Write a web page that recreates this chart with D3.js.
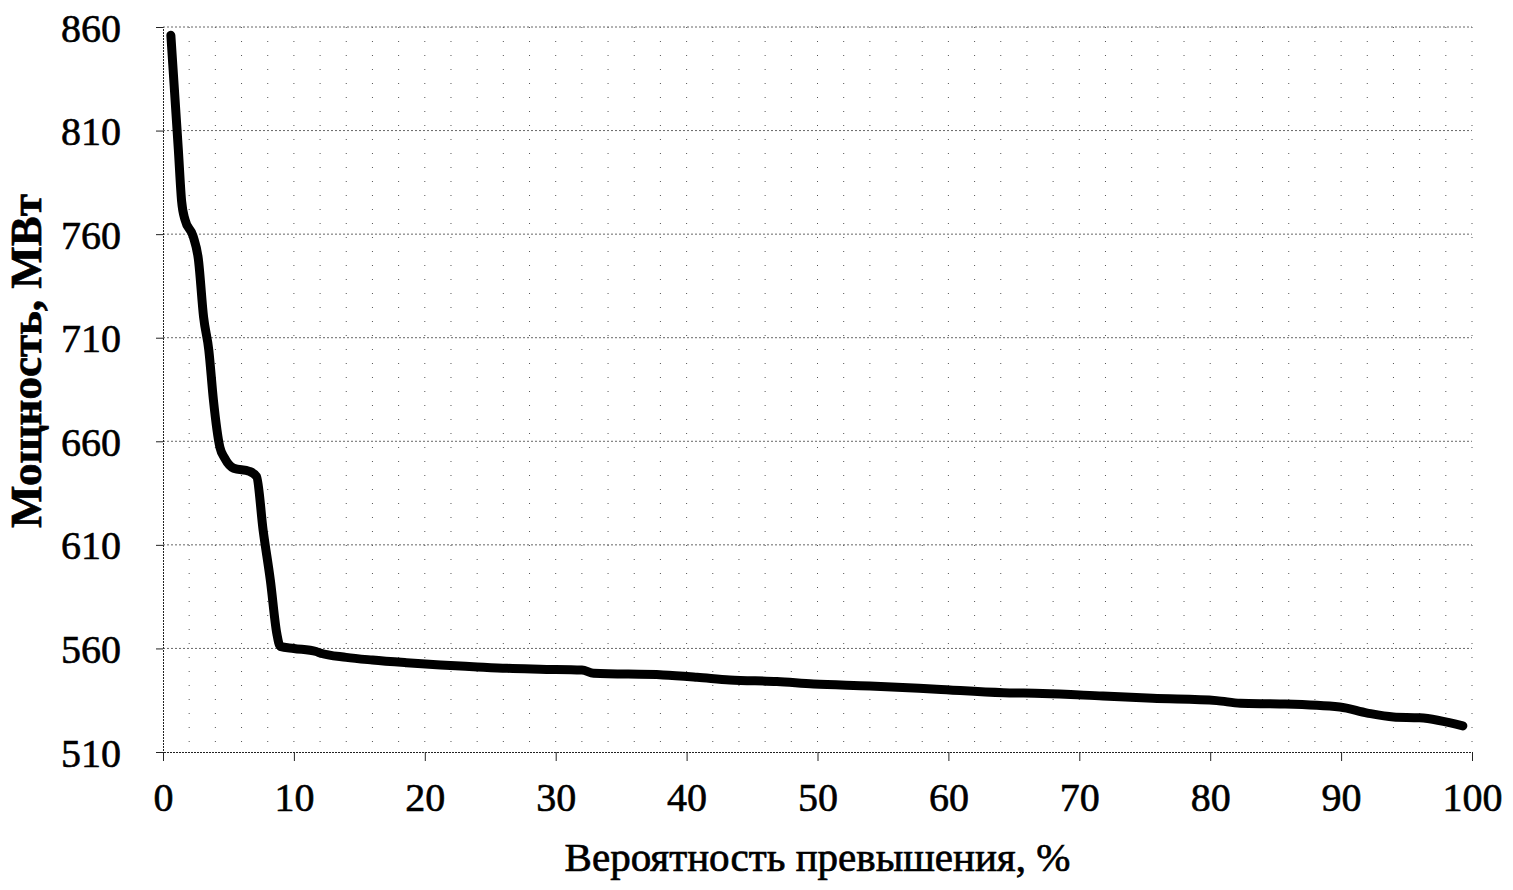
<!DOCTYPE html>
<meta charset="utf-8">
<style>
    body { margin: 0; background: #fff; }
    svg { background-color: #fff; }
    .tick text { font-family: "Liberation Serif", "Times New Roman", serif; font-size: 40px; fill: #000; stroke: #000; stroke-width: 0.6px; }
    .axis-title { font-family: "Liberation Serif", "Times New Roman", serif; fill: #000; stroke: #000; stroke-width: 0.7px; }
    .grid-h line { stroke: #666; stroke-width: 1; stroke-dasharray: 2,2; }
    .grid-v line { stroke: #555; stroke-width: 1; stroke-dasharray: 1,13; }
</style>
<body>
<script src="https://d3js.org/d3.v7.min.js"></script>
<script>
    var width = 1513,
        height = 890;

    // вероятность превышения, %
    var prob = [0.6, 1.17, 1.42, 1.68, 2.3, 2.7, 3.1, 3.5, 3.85, 4.35, 4.7, 5.4, 6.6, 7.15, 7.65, 8.2, 8.7, 8.95,
        10, 11.7, 12, 14, 16, 18.6, 21.2, 23.7, 26.3, 28.8, 32, 32.9, 38.2, 40.8, 43.3, 46.9, 49.7, 54,
        59.1, 64.2, 67.2, 71.8, 75.6, 80.5, 82.3, 85.3, 89.9, 92, 94, 96, 99.3];
    // мощность, МВт
    var power = [856, 801, 776, 767, 759, 748, 720, 704, 680, 657, 652, 647, 645.5, 643, 617, 593, 567, 561,
        560, 558.5, 557.8, 555.7, 554.4, 553.1, 552, 551.2, 550.4, 550, 549.6, 548, 547.2, 546.1, 544.8, 544, 542.8, 541.9,
        540.3, 538.6, 538.3, 537, 535.9, 534.8, 533.5, 533.2, 531.7, 528.8, 526.9, 526.5, 522.6];

    var xTicks = [0, 10, 20, 30, 40, 50, 60, 70, 80, 90, 100];
    var yTicks = [510, 560, 610, 660, 710, 760, 810, 860];
    var xMinor = d3.range(0, 101, 2);

    var margin = {left: 163, right: 41, top: 27, bottom: 138};

    var svg = d3.select('body').append('svg')
        .attr('width', width)
        .attr('height', height);

    var x = d3.scaleLinear().domain([0, 100]).range([margin.left, width - margin.right]);
    var y = d3.scaleLinear().domain([510, 860]).range([height - margin.bottom, margin.top]);

    // сетка
    svg.append('g').attr('class', 'grid-v')
        .selectAll('line').data(xMinor.filter(function (d) { return d > 0; }))
        .enter().append('line')
        .attr('x1', function (d) { return x(d); }).attr('x2', function (d) { return x(d); })
        .attr('y1', y(860)).attr('y2', y(510));

    svg.append('g').attr('class', 'grid-h')
        .selectAll('line').data(yTicks.filter(function (d) { return d > 510; }))
        .enter().append('line')
        .attr('x1', x(0)).attr('x2', x(100))
        .attr('y1', function (d) { return y(d); }).attr('y2', function (d) { return y(d); });

    // оси
    var xAxis = svg.append('g')
        .attr('transform', 'translate(0,' + y(510) + ')')
        .call(d3.axisBottom(x).tickValues(xTicks).tickSize(9).tickPadding(22).tickFormat(d3.format('d')));
    var yAxis = svg.append('g')
        .attr('transform', 'translate(' + x(0) + ',0)')
        .call(d3.axisLeft(y).tickValues(yTicks).tickSize(7).tickPadding(35).tickFormat(d3.format('d')));

    [xAxis, yAxis].forEach(function (a) {
        a.select('.domain').attr('stroke', '#222').attr('stroke-dasharray', '2,1');
        a.selectAll('.tick line').attr('stroke', '#222');
    });
    yAxis.selectAll('.tick text').attr('dy', '0.35em');

    // кривая обеспеченности
    var line = d3.line()
        .x(function (d, i) { return x(prob[i]); })
        .y(function (d) { return y(d); })
        .curve(d3.curveMonotoneX);

    svg.append('path')
        .datum(power)
        .attr('fill', 'none')
        .attr('stroke', '#000')
        .attr('stroke-width', 9)
        .attr('stroke-linejoin', 'round')
        .attr('stroke-linecap', 'round')
        .attr('d', line);

    svg.append('text')
        .attr('class', 'axis-title')
        .attr('x', (x(0) + x(100)) / 2)
        .attr('y', 871)
        .attr('text-anchor', 'middle')
        .style('font-size', '41px')
        .text('Вероятность превышения, %');

    svg.append('text')
        .attr('class', 'axis-title')
        .attr('transform', 'translate(41,361) rotate(-90)')
        .attr('text-anchor', 'middle')
        .style('font-size', '45px')
        .style('font-weight', 'bold')
        .text('Мощность, МВт');
</script>
</body>
